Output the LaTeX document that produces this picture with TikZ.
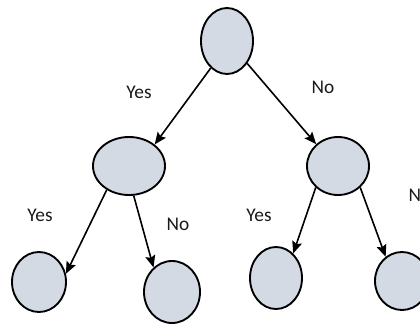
\documentclass[tikz,border=0pt]{standalone}
\usepackage{fontspec}
\setmainfont{Carlito}
\usetikzlibrary{shapes.geometric,arrows.meta}
\definecolor{nodefill}{HTML}{D3DAE4}
\tikzset{
  treenode/.style={ellipse, draw=black, line width=1.4pt, fill=nodefill, inner sep=0pt},
  branch/.style={line width=1.2pt, -{Stealth[length=9pt,width=7.5pt,inset=1.5pt]}},
  lbl/.style={font=\fontsize{14.5pt}{17pt}\selectfont, text=black!90}
}
\begin{document}
\begin{tikzpicture}[x=0.75pt,y=-0.75pt]
\useasboundingbox (0,0) rectangle (420,324);
\node[treenode, minimum width=52*0.75pt, minimum height=66*0.75pt] (root) at (227,41) {};
\node[treenode, minimum width=72*0.75pt, minimum height=58*0.75pt] (L) at (129,166) {};
\node[treenode, minimum width=62*0.75pt, minimum height=58*0.75pt] (R) at (338,166) {};
\node[treenode, minimum width=54*0.75pt, minimum height=60*0.75pt] (LL) at (39,282) {};
\node[treenode, minimum width=56*0.75pt, minimum height=62*0.75pt] (LR) at (172,292) {};
\node[treenode, minimum width=52*0.75pt, minimum height=62*0.75pt] (RL) at (276,278) {};
\node[treenode, minimum width=54*0.75pt, minimum height=58*0.75pt] (RR) at (402,281) {};

\draw[branch] (root.239) -- (L.40);
\draw[branch] (root.312) -- (R.135);
\draw[branch] (L.227) -- (LL.17);
\draw[branch] (L.279) -- (LR.127);
\draw[branch] (R.224) -- (RL.55);
\draw[branch] (R.316) -- (RR.124);

\node[lbl] (t1) at (139,92) {Yes};
\node[lbl] (t2) at (323,87) {No};
\node[lbl] (t3) at (40,215) {Yes};
\node[lbl] (t4) at (178,224) {No};
\node[lbl] (t5) at (259,215) {Yes};
\node[lbl, anchor=west] (t6) at (404,195) {No};
\end{tikzpicture}
\end{document}
